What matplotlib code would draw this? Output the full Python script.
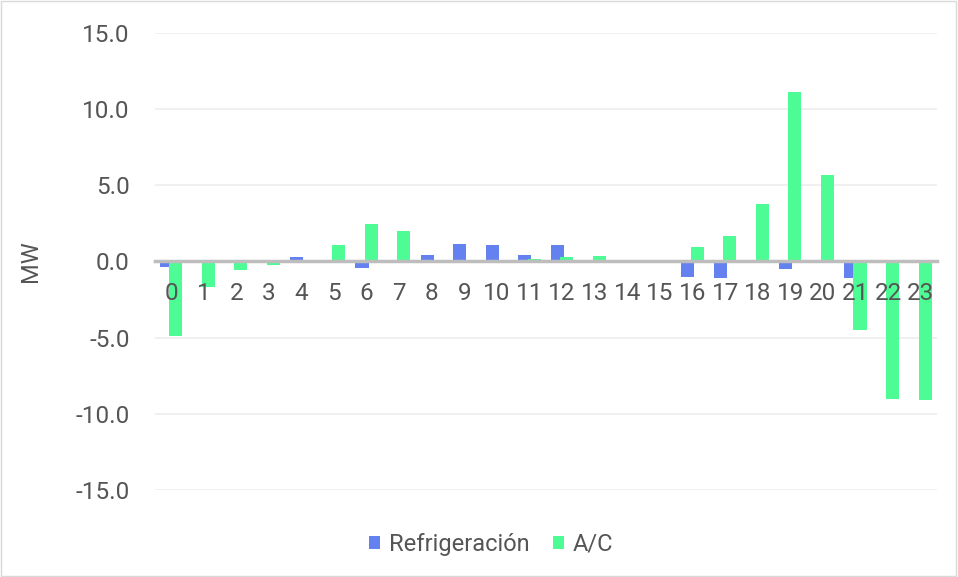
import matplotlib.pyplot as plt
import numpy as np
from matplotlib.patches import Rectangle

hours = [str(h) for h in range(24)]
refrigeracion = [-0.35, 0.0, 0.0, 0.0, 0.3, 0.0, -0.45, 0.0, 0.4, 1.15, 1.08, 0.42,
                 1.08, 0.02, 0.0, 0.0, -1.0, -1.1, 0.0, -0.5, 0.0, -1.1, 0.0, 0.0]
ac = [-4.9, -1.7, -0.55, -0.25, 0.05, 1.1, 2.45, 2.0, 0.0, 0.0, 0.05, 0.15,
      0.29, 0.37, -0.1, 0.0, 0.95, 1.67, 3.8, 11.1, 5.7, -4.5, -9.05, -9.1]

plt.rcParams['font.family'] = ['Roboto', 'DejaVu Sans']

fig = plt.figure(figsize=(9.58, 5.77), dpi=100)
ax = fig.add_axes([0.1615, 0.1508, 0.8165, 0.792])

x = np.arange(len(hours))
ax.bar(x - 0.14, refrigeracion, width=0.4, color='#6382F0', label='Refrigeración', zorder=2)
ax.bar(x + 0.14, ac, width=0.4, color='#4DFC94', label='A/C', zorder=2)

ax.set_xlim(-0.5, 23.5)
ax.set_ylim(-15, 15)
ax.set_yticks([-15, -10, -5, 0, 5, 10, 15])
ax.set_yticklabels(['%.1f' % v for v in [-15, -10, -5, 0, 5, 10, 15]])
ax.yaxis.grid(True, color='#EFEFEF', linewidth=1.3)
ax.set_axisbelow(False)

ax.set_xticks(x)
ax.set_xticklabels(hours)
for s in ['top', 'right', 'left']:
    ax.spines[s].set_visible(False)
ax.spines['bottom'].set_position(('data', 0))
ax.spines['bottom'].set_color('#BDBDBD')
ax.spines['bottom'].set_linewidth(2.5)
ax.spines['bottom'].set_zorder(4)
ax.xaxis.set_zorder(5)
ax.yaxis.set_zorder(0.5)
ax.tick_params(axis='both', length=0, labelsize=17.5, labelcolor='#555555')
ax.tick_params(axis='x', pad=15)
ax.tick_params(axis='y', pad=18)

ax.set_ylabel('MW', fontsize=17, color='#555555', labelpad=24)

ax.legend(loc='upper center', bbox_to_anchor=(0.43, -0.047), ncol=2, frameon=False,
          fontsize=17, labelcolor='#555555', handlelength=0.47, handleheight=0.47,
          handletextpad=0.35, columnspacing=1.0)

fig.patches.append(Rectangle((0.001, 0.002), 0.997, 0.996, transform=fig.transFigure,
                             fill=False, edgecolor='#D9D9D9', linewidth=1))

plt.savefig('out.png', dpi=100)
